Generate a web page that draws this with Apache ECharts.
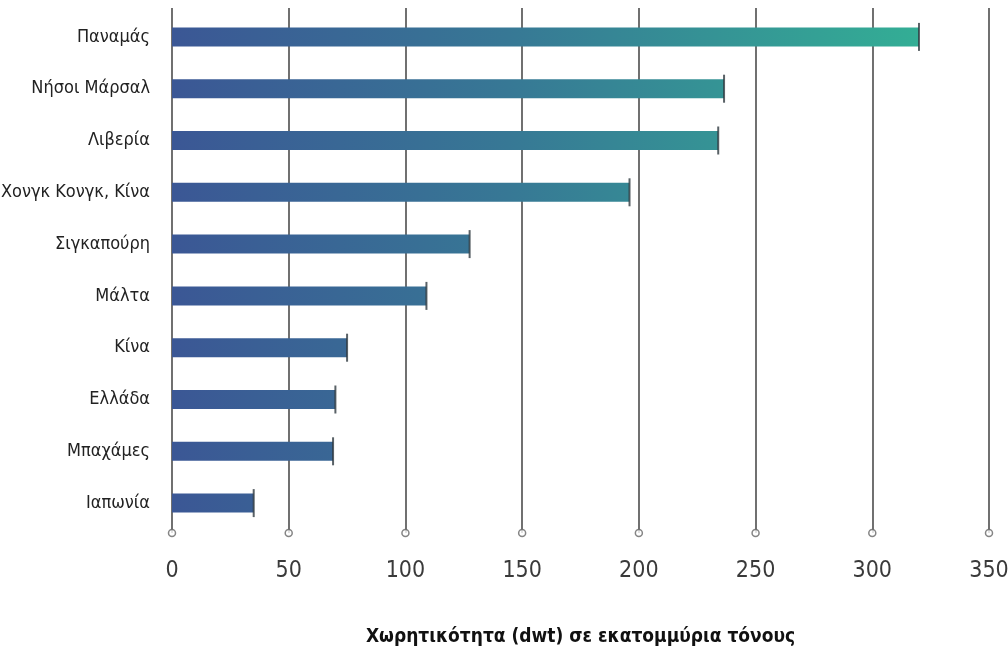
<!DOCTYPE html>
<html>
<head>
<meta charset="utf-8">
<script src="https://cdn.jsdelivr.net/npm/echarts@6/dist/echarts.min.js"></script>
<style>
  html, body { margin: 0; padding: 0; background: #ffffff; }
  #chart { width: 1008px; height: 655px; }
</style>
</head>
<body>
<div id="chart"></div>
<script>
// Flag registries, deadweight tonnage (millions of tonnes)
const countries = ['Παναμάς', 'Νήσοι Μάρσαλ', 'Λιβερία', 'Χονγκ Κονγκ, Κίνα', 'Σιγκαπούρη',
                   'Μάλτα', 'Κίνα', 'Ελλάδα', 'Μπαχάμες', 'Ιαπωνία'];
const tonnage = [320, 236.5, 234, 196, 127.5, 109, 75, 70, 69, 35];
const xTicks = [0, 50, 100, 150, 200, 250, 300, 350];

const FONT = '"Liberation Sans Narrow", "DejaVu Sans Condensed", sans-serif';
const LEFT = 172, RIGHT = 19;

const barFill = new echarts.graphic.LinearGradient(LEFT, 0, 920, 0, [
  { offset: 0, color: '#3b5795' },
  { offset: 0.45, color: '#377895' },
  { offset: 1, color: '#33ae95' }
], true);

const chart = echarts.init(document.getElementById('chart'), null, { renderer: 'canvas' });

chart.setOption({
  backgroundColor: '#ffffff',
  animation: false,
  grid: [
    // bars
    { left: LEFT, right: RIGHT, top: 11, height: 518, outerBoundsMode: 'none', containLabel: false },
    // vertical guide lines with their end circles
    { left: LEFT, right: RIGHT, top: 8, height: 525, outerBoundsMode: 'none', containLabel: false }
  ],
  xAxis: [
    {
      gridIndex: 0, type: 'value', min: 0, max: 350, interval: 50,
      axisLine: { show: false }, axisTick: { show: false },
      axisLabel: { show: false }, splitLine: { show: false }
    },
    {
      gridIndex: 1, type: 'value', min: 0, max: 350, interval: 50,
      axisLine: { show: false }, axisTick: { show: false },
      splitLine: { show: true, lineStyle: { color: '#4d4d4d', width: 1.6 } },
      axisLabel: {
        margin: 27, fontFamily: FONT, fontSize: 23, color: '#3a3a3a'
      },
      name: 'Χωρητικότητα (dwt) σε εκατομμύρια τόνους',
      nameLocation: 'middle', nameGap: 95,
      nameTextStyle: { fontFamily: FONT, fontSize: 19, color: '#111111', fontWeight: 'bold' }
    }
  ],
  yAxis: [
    {
      gridIndex: 0, type: 'category', data: countries, inverse: true,
      axisLine: { show: false }, axisTick: { show: false }, splitLine: { show: false },
      axisLabel: { margin: 22, fontFamily: FONT, fontSize: 18, color: '#222222' }
    },
    {
      gridIndex: 1, type: 'value', min: 0, max: 1,
      axisLine: { show: false }, axisTick: { show: false },
      axisLabel: { show: false }, splitLine: { show: false }
    }
  ],
  series: [
    {
      type: 'bar', xAxisIndex: 0, yAxisIndex: 0,
      data: tonnage, barWidth: 19,
      itemStyle: { color: barFill }, z: 3
    },
    {
      // dark end cap on each bar
      type: 'scatter', xAxisIndex: 0, yAxisIndex: 0,
      data: tonnage, symbol: 'rect', symbolSize: [2, 28],
      itemStyle: { color: '#2f3a40' }, z: 4, silent: true
    },
    {
      // small rings at the foot of each guide line
      type: 'scatter', xAxisIndex: 1, yAxisIndex: 1, clip: false,
      data: xTicks.map(v => [v, 0]),
      symbol: 'circle', symbolSize: 7,
      itemStyle: { color: '#ffffff', borderColor: '#666666', borderWidth: 1.5 },
      z: 5, silent: true
    }
  ]
});
</script>
</body>
</html>
